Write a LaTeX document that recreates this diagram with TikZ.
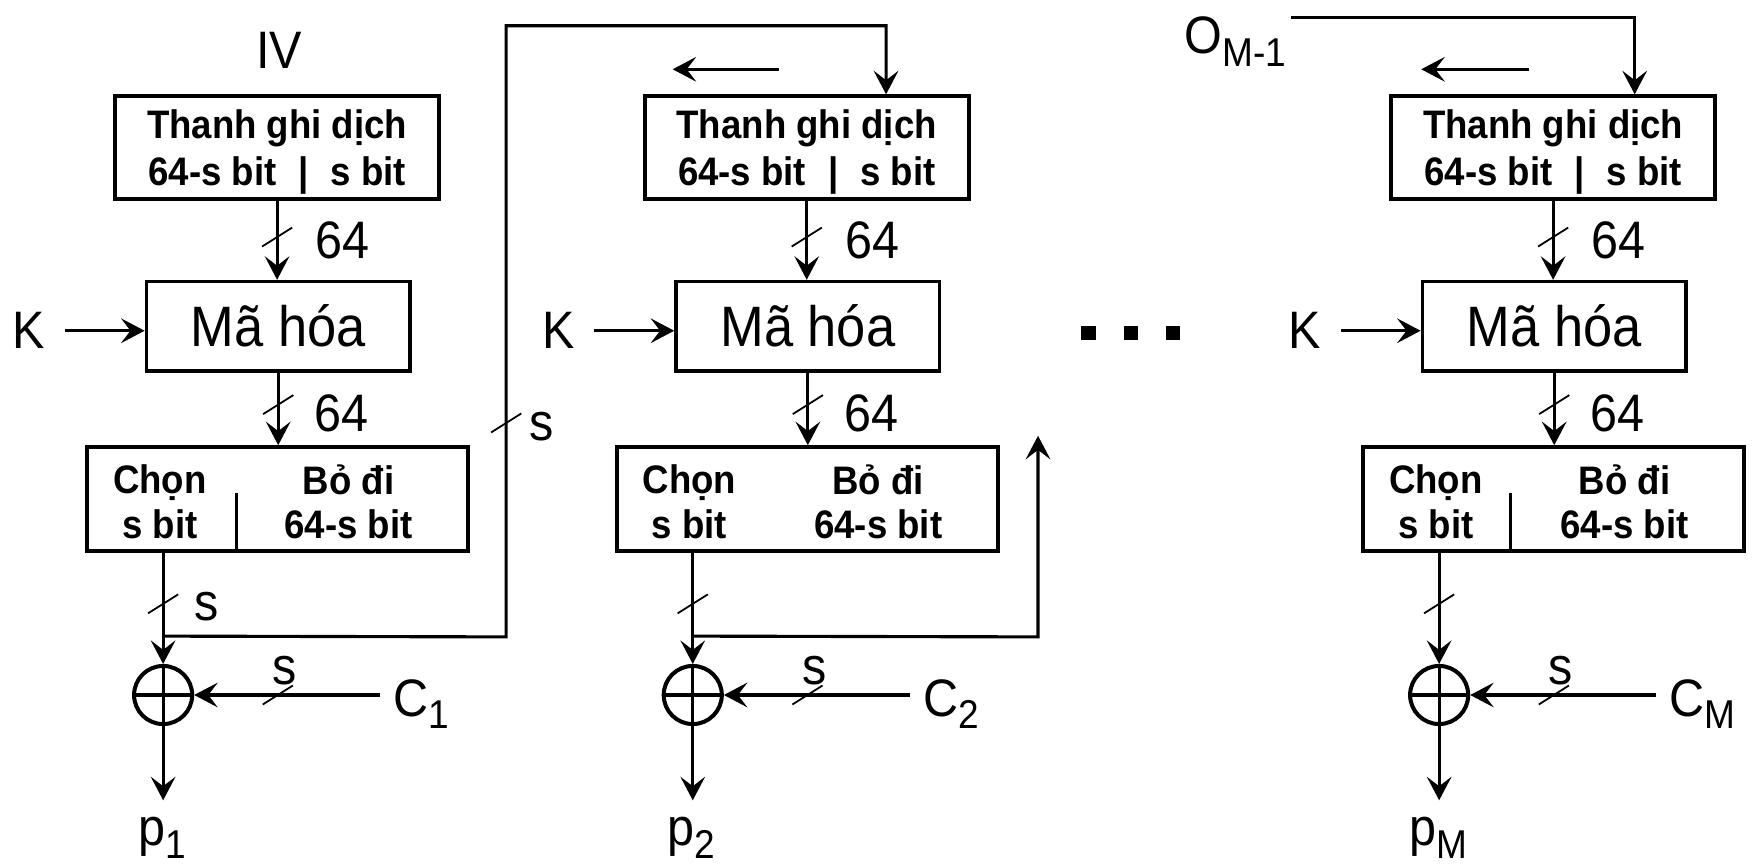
\documentclass[tikz,border=0pt]{standalone}
\usepackage{fontspec}
\setmainfont{Liberation Sans}[FakeStretch=0.92]
\usetikzlibrary{arrows.meta}
\newcommand\subtx[1]{\raisebox{-0.24em}{\fontsize{18}{18}\selectfont #1}}
\tikzset{
  ln/.style={line width=1.4pt},
  arr/.style={ln, -{Stealth[length=10.5pt,width=11pt,inset=4.2pt]}},
  regbox/.style={draw, line width=1.6pt, minimum width=145pt, minimum height=46pt, inner sep=0pt},
  rtxt/.style={align=center, inner sep=0pt, font=\fontsize{17.8}{21}\bfseries\selectfont},
  encbox/.style={draw, line width=1.6pt, minimum width=118pt, minimum height=40pt, inner sep=0pt, font=\fontsize{25.5}{28}\selectfont},
  selbox/.style={draw, line width=1.6pt, minimum width=170.5pt, minimum height=46.5pt, inner sep=0pt},
  btxt/.style={align=center, inner sep=0pt, font=\fontsize{17.8}{20}\bfseries\selectfont},
  lbl/.style={inner sep=0pt, font=\fontsize{23.6}{27}\selectfont},
  xorc/.style={draw, line width=1.8pt, circle, minimum size=26pt, inner sep=0pt},
  dotsq/.style={fill, minimum size=6.5pt, inner sep=0pt},
  slashmark/.pic={\draw[line width=0.8pt] (-13.5,8.5) -- (13.5,-8.5);},
}
\begin{document}
\begin{tikzpicture}[x=0.5pt, y=-0.5pt]
\useasboundingbox (0,0) rectangle (1568,773);

\foreach \i/\c/\s in {1/248/1, 2/722/2, 3/1390/M} {
  \node[regbox] (reg\i) at (\c,132) {};
  \node[rtxt] (rt\i) at (\c,136) {Thanh ghi dịch\\64-s bit\hspace{0.55em}|\hspace{0.55em}s bit};
  \node[encbox] (enc\i) at (\c+1,292) {Mã hóa};
  \node[selbox] (sel\i) at (\c+0.5,446.5) {};
  \node[btxt] (ch\i) at (\c-105,449) {Chọn\\s bit};
  \node[btxt] (bo\i) at (\c+64,449) {Bỏ đi\\64-s bit};
  \node[lbl] (k\i) at (\c-222,296) {K};
  \node[lbl, anchor=west] (na\i) at (\c+34,215) {64};
  \node[lbl, anchor=west] (nb\i) at (\c+33,370) {64};
  \node[xorc] (x\i) at (\c-102,622) {};
  \draw[ln] (x\i.north) -- (x\i.south) (x\i.west) -- (x\i.east);
  \node[lbl, anchor=base west] (c\i) at (\c+104,641) {C\rlap{\subtx{\s}}};
  \node[lbl] (s\i) at (\c+7,600) {s};
  \node[lbl, anchor=base] (p\i) at (\c-103,757) {p\subtx{\s}};

  \draw[arr] (reg\i.south) -- coordinate[pos=0.46] (sa\i) (reg\i.south |- enc\i.north);
  \pic at (sa\i) {slashmark};
  \draw[arr] (enc\i.south) -- coordinate[pos=0.44] (sb\i) (enc\i.south |- sel\i.north);
  \pic at (sb\i) {slashmark};
  \draw[arr] (k\i.east -| {\c-190},0) -- (k\i.east -| enc\i.west);
  \draw[arr] (sel\i.south -| x\i) -- coordinate[pos=0.46] (sc\i) coordinate[pos=0.75] (j\i) (x\i.north);
  \pic at (sc\i) {slashmark};
  \draw[arr, shorten <=6pt] (c\i.west |- x\i.east) -- coordinate[pos=0.58] (sd\i) (x\i.east);
  \pic at (sd\i) {slashmark};
  \draw[arr, shorten >=7.5pt] (x\i.south) -- (x\i.south |- p\i.north);
}

% dividers in selection boxes
\draw[ln] (sel1.south) ++(-36.5,0) -- ++(0,-53);
\draw[ln] (sel3.south) ++(-38.5,0) -- ++(0,-53);

% column 1
\node[lbl] (iv) at (250,45) {IV};
\node[lbl] (so) at (185,543) {s};
\node[lbl] (sl) at (485,382) {s};
\coordinate (f1) at (453,570);
\coordinate (f2) at (453,23);
\coordinate (f3) at (793,23);
\draw[arr] (j1) -- (f1) -- coordinate[pos=0.35] (se) (f2) -- (f3) -- (reg2.north -| f3);
\pic at (se) {slashmark};

% column 2
\coordinate (g1) at (929,570);
\coordinate (g2) at (929,390);
\draw[arr] (j2) -- (g1) -- (g2);
\coordinate (la2) at (697,62);
\coordinate (lb2) at (602,62);
\draw[arr] (la2) -- (lb2);

% dots
\node[dotsq] (d1) at (974,298) {};
\node[dotsq] (d2) at (1012,298) {};
\node[dotsq] (d3) at (1050,298) {};

% column 3
\node[lbl, anchor=base west] (om) at (1060,48) {O\subtx{M-1}};
\coordinate (oc) at (1463,16);
\draw[arr, shorten <=2pt] (om.east |- oc) -- (oc) -- (reg3.north -| oc);
\coordinate (la3) at (1368,62);
\coordinate (lb3) at (1272,62);
\draw[arr] (la3) -- (lb3);
\end{tikzpicture}
\end{document}
